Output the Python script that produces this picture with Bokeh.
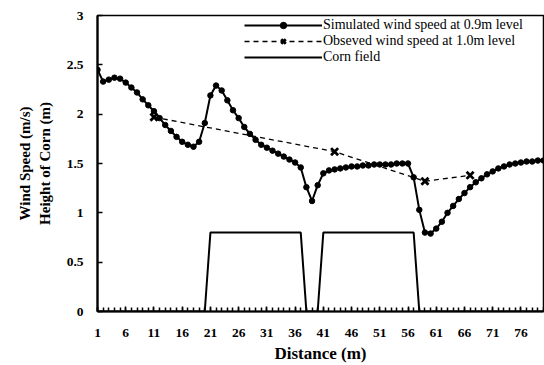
from bokeh.plotting import figure
from bokeh.models import Range1d, FixedTicker, Legend, LegendItem
from bokeh.embed import file_html
from bokeh.resources import INLINE

distance = list(range(1, 81))
simulated = [2.45, 2.33, 2.35, 2.37, 2.36, 2.32, 2.27, 2.22, 2.15, 2.09,
             2.03, 1.96, 1.89, 1.83, 1.77, 1.72, 1.69, 1.67, 1.72, 1.91,
             2.19, 2.29, 2.24, 2.14, 2.04, 1.96, 1.87, 1.80, 1.74, 1.69,
             1.66, 1.63, 1.60, 1.57, 1.54, 1.51, 1.46, 1.26, 1.12, 1.28,
             1.40, 1.43, 1.44, 1.45, 1.46, 1.47, 1.47, 1.48, 1.48, 1.49,
             1.49, 1.49, 1.49, 1.50, 1.50, 1.50, 1.36, 1.03, 0.80, 0.79,
             0.84, 0.91, 1.00, 1.07, 1.14, 1.20, 1.26, 1.31, 1.35, 1.39,
             1.42, 1.45, 1.47, 1.49, 1.50, 1.51, 1.52, 1.52, 1.53, 1.53]
observed_x = [11, 43, 59, 67]
observed_y = [1.97, 1.62, 1.32, 1.38]
corn = [0, 0, 0, 0, 0, 0, 0, 0, 0, 0,
        0, 0, 0, 0, 0, 0, 0, 0, 0, 0,
        0.8, 0.8, 0.8, 0.8, 0.8, 0.8, 0.8, 0.8, 0.8, 0.8,
        0.8, 0.8, 0.8, 0.8, 0.8, 0.8, 0.8, 0, 0, 0,
        0.8, 0.8, 0.8, 0.8, 0.8, 0.8, 0.8, 0.8, 0.8, 0.8,
        0.8, 0.8, 0.8, 0.8, 0.8, 0.8, 0.8, 0, 0, 0,
        0, 0, 0, 0, 0, 0, 0, 0, 0, 0,
        0, 0, 0, 0, 0, 0, 0, 0, 0, 0]
x_ticks = [1, 6, 11, 16, 21, 26, 31, 36, 41, 46, 51, 56, 61, 66, 71, 76]
y_ticks = [0, 0.5, 1, 1.5, 2, 2.5, 3]
y_tick_labels = {0: "0", 0.5: "0.5", 1: "1", 1.5: "1.5", 2: "2", 2.5: "2.5", 3: "3"}
labels = ["Simulated wind speed at 0.9m level",
          "Obseved wind speed at 1.0m level",
          "Corn field"]
x_title = "Distance (m)"
y_title = "Wind Speed (m/s)\nHeight of Corn (m)"

SERIF = "Liberation Serif"

p = figure(width=544, height=365, output_backend="svg", toolbar_location=None,
           x_range=Range1d(1, 80), y_range=Range1d(0, 3),
           min_border_left=97, min_border_right=1, min_border_top=15,
           min_border_bottom=53)
p.grid.visible = False
p.outline_line_color = "black"
p.outline_line_width = 1.5
p.background_fill_color = "white"
p.border_fill_color = "white"

# axes
p.xaxis.ticker = FixedTicker(ticks=x_ticks, minor_ticks=distance)
p.yaxis.ticker = FixedTicker(ticks=y_ticks)
p.yaxis.major_label_overrides = y_tick_labels
for ax in (p.xaxis[0], p.yaxis[0]):
    ax.axis_line_width = 2.2
    ax.axis_line_color = "black"
    ax.major_tick_in = 5
    ax.major_tick_out = 0
    ax.major_tick_line_width = 1.5
    ax.major_label_text_font = SERIF
    ax.major_label_text_font_style = "bold"
    ax.major_label_text_font_size = "13.5px"
    ax.major_label_text_color = "black"
    ax.axis_label_text_font = SERIF
    ax.axis_label_text_font_style = "bold"
    ax.axis_label_text_color = "black"
p.xaxis.minor_tick_in = 4
p.xaxis.minor_tick_out = 0
p.xaxis.minor_tick_line_width = 1.5
p.xaxis.major_label_standoff = 17
p.xaxis.axis_label = x_title
p.xaxis.axis_label_text_font_size = "17px"
p.xaxis.axis_label_standoff = 4
p.yaxis.minor_tick_line_color = None
p.yaxis.major_label_standoff = 14
p.yaxis.axis_label = y_title
p.yaxis.axis_label_text_font_size = "15px"
p.yaxis.axis_label_standoff = 11

# series
sim_line = p.line(distance, simulated, line_color="black", line_width=2)
sim_pts = p.scatter(distance, simulated, marker="circle", size=5.5,
                    fill_color="black", line_color="black")
obs_line = p.line(observed_x, observed_y, line_color="black", line_width=1.3,
                  line_dash="5 4")
obs_pts = p.scatter(observed_x, observed_y, marker="x", size=10,
                    line_color="black", line_width=2.8)
corn_line = p.line(distance, corn, line_color="black", line_width=2)

legend = Legend(items=[
    LegendItem(label=labels[0], renderers=[sim_line, sim_pts]),
    LegendItem(label=labels[1], renderers=[obs_line, obs_pts]),
    LegendItem(label=labels[2], renderers=[corn_line]),
], location=(147, 246))
legend.border_line_alpha = 0
legend.background_fill_alpha = 0
legend.glyph_width = 78
legend.glyph_height = 16
legend.label_height = 16
legend.label_standoff = 1
legend.spacing = 0
legend.padding = 0
legend.margin = 0
legend.label_text_font = SERIF
legend.label_text_font_size = "14px"
legend.label_text_color = "black"
p.add_layout(legend)

open("out.html", "w").write(file_html(p, INLINE))
